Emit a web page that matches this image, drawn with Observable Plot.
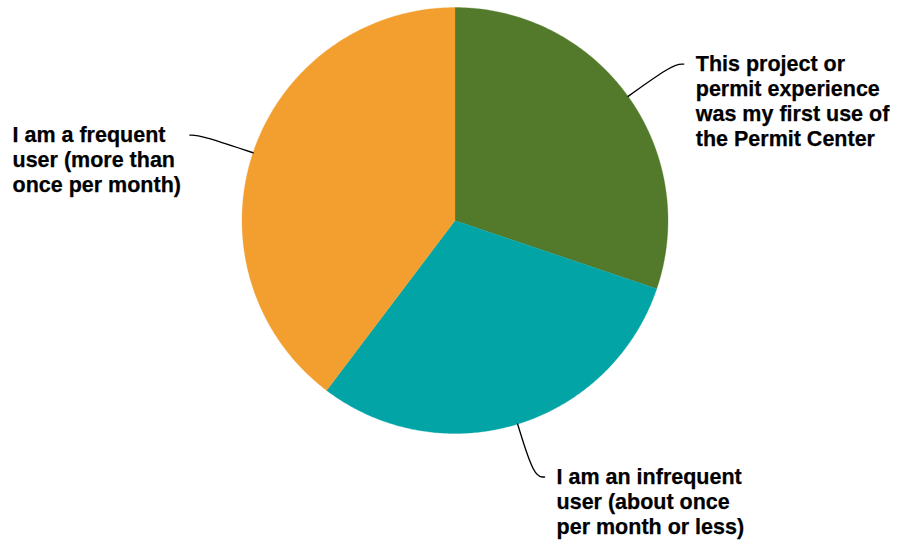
<!DOCTYPE html>
<html><head><meta charset="utf-8">
<script src="https://cdn.jsdelivr.net/npm/d3@7"></script>
<script src="https://cdn.jsdelivr.net/npm/@observablehq/plot@0.6"></script>
<style>html,body{margin:0;padding:0;background:#fff} #chart svg{display:block}</style>
</head><body><div id="chart"></div>
<script>
// ---- data ----
const categories = ["first", "infrequent", "frequent"];
const labels = [
  "This project or\npermit experience\nwas my first use of\nthe Permit Center",
  "I am an infrequent\nuser (about once\nper month or less)",
  "I am a frequent\nuser (more than\nonce per month)"
];
const values = [30.2, 30.1, 39.7];
const colors = ["#527a2a", "#02a4a6", "#f29f30"];

// ---- layout ----
const W = 898, H = 542;
const R = 213, CX = 454.5, CY = 220;   // pie radius & centre (px)
const elbowR = 1.26, ext = 0.05;       // leader geometry (radius units)

const arcs = d3.pie().sort(null)(values);

// slice polygons in radius units (y up)
const slices = [];
arcs.forEach((a, i) => {
  const n = Math.max(2, Math.ceil((a.endAngle - a.startAngle) / (Math.PI / 360)));
  slices.push({cat: categories[i], x: 0, y: 0});
  for (let k = 0; k <= n; k++) {
    const t = a.startAngle + (a.endAngle - a.startAngle) * k / n;
    slices.push({cat: categories[i], x: Math.sin(t), y: Math.cos(t)});
  }
  slices.push({cat: categories[i], x: 0, y: 0});
});

// leader lines
const leaders = [];
const ends = [];
arcs.forEach((a, i) => {
  const m = (a.startAngle + a.endAngle) / 2;
  const s = Math.sin(m), c = Math.cos(m);
  const side = s >= 0 ? 1 : -1;
  const p0 = {cat: categories[i], x: s, y: c};
  const p1 = {cat: categories[i], x: s * elbowR, y: c * elbowR};
  const p2 = {cat: categories[i], x: s * elbowR + side * ext, y: c * elbowR};
  leaders.push(p0, p1, p2);
  ends.push({cat: categories[i], label: labels[i], side, x: p2.x, y: p2.y});
});

const textStyle = {
  text: "label",
  textAnchor: "start",
  lineAnchor: "top",
  fontSize: 21.5,
  fontWeight: "bold",
  fontFamily: "'Liberation Sans', Arial, sans-serif",
  lineHeight: 1.16,
  fill: "#000",
  stroke: "#000",
  strokeWidth: 0.25,
  dy: -11
};

const chart = Plot.plot({
  width: W,
  height: H,
  margin: 0,
  x: {domain: [-CX / R, (W - CX) / R], axis: null},
  y: {domain: [-(H - CY) / R, CY / R], axis: null},
  color: {domain: categories, range: colors},
  style: {background: "#fff"},
  marks: [
    Plot.line(slices, {x: "x", y: "y", z: "cat", fill: "cat", stroke: "cat", strokeWidth: 0.3, curve: "linear"}),
    Plot.line(leaders, {x: "x", y: "y", z: "cat", curve: "basis", stroke: "#000", strokeWidth: 1.4}),
    Plot.text(ends.filter(d => d.side > 0), {x: "x", y: "y", dx: 12, ...textStyle}),
    Plot.text(ends.filter(d => d.side < 0), {y: "y", frameAnchor: "left", dx: 12, ...textStyle})
  ]
});
document.getElementById("chart").appendChild(chart);
</script>
</body></html>
